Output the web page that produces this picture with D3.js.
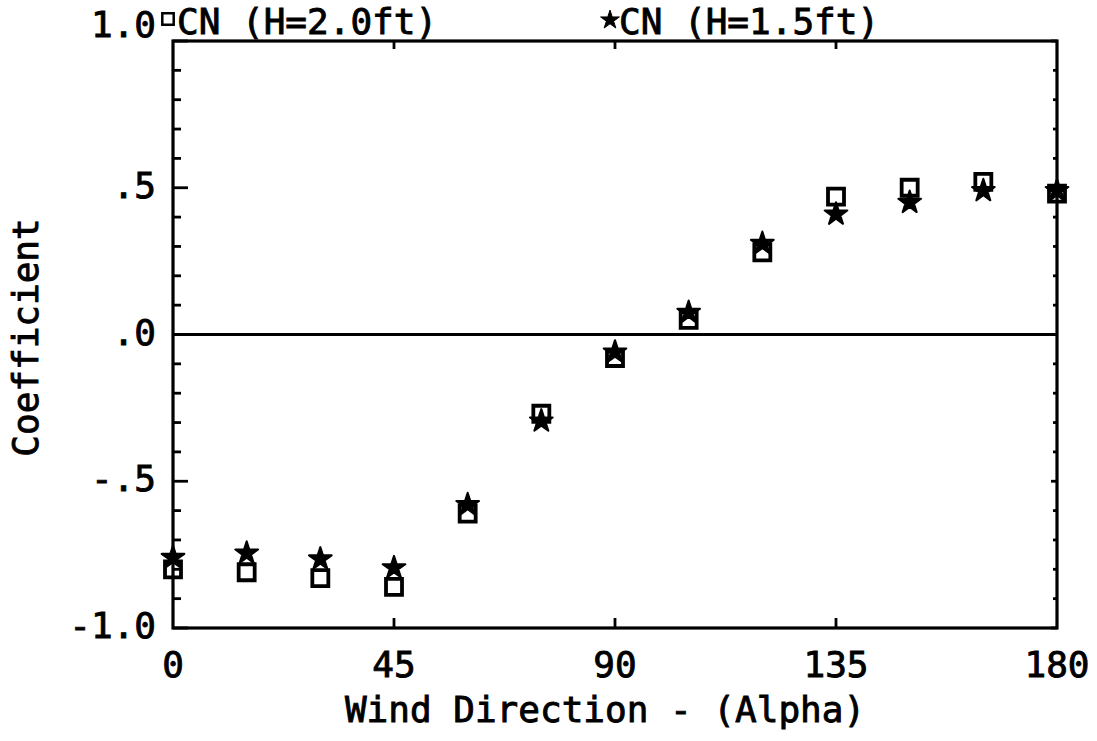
<!DOCTYPE html>
<html>
<head>
<meta charset="utf-8">
<script src="https://cdn.jsdelivr.net/npm/d3@7"></script>
<style>
  html, body { margin: 0; padding: 0; background: #fff; }
  svg { display: block; }
  text { font-family: "DejaVu Sans Mono", "Liberation Mono", monospace; fill: #000; stroke: #000; stroke-width: 0.9px; }
</style>
</head>
<body>
<svg id="chart" width="1097" height="741"></svg>
<script>
// ---- data ----
const windDirection = [0, 15, 30, 45, 60, 75, 90, 105, 120, 135, 150, 165, 180];
const cnH20 = [-0.80, -0.81, -0.83, -0.86, -0.61, -0.27, -0.08, 0.05, 0.28, 0.47, 0.50, 0.52, 0.48];
const cnH15 = [-0.76, -0.745, -0.765, -0.795, -0.58, -0.295, -0.06, 0.075, 0.31, 0.41, 0.45, 0.49, 0.49];
const seriesNames = ["CN (H=2.0ft)", "CN (H=1.5ft)"];
const xTickValues = [0, 45, 90, 135, 180];
const xTickLabels = ["0", "45", "90", "135", "180"];
const yTickValues = [1, 0.5, 0, -0.5, -1];
const yTickLabels = ["1.0", ".5", ".0", "-.5", "-1.0"];
const xTitle = "Wind Direction - (Alpha)";
const yTitle = "Coefficient";

// ---- layout ----
const W = 1097, H = 741;
const m = { left: 173, right: 40, top: 41, bottom: 113 };
const svg = d3.select("#chart");
const x = d3.scaleLinear().domain([0, 180]).range([m.left, W - m.right]);
const y = d3.scaleLinear().domain([-1, 1]).range([H - m.bottom, m.top]);
const FS = 36;

const g = svg.append("g");

// frame
g.append("rect")
  .attr("x", x(0)).attr("y", y(1))
  .attr("width", x(180) - x(0)).attr("height", y(-1) - y(1))
  .attr("fill", "none").attr("stroke", "#000").attr("stroke-width", 3.2);

// zero line
g.append("line")
  .attr("x1", x(0)).attr("x2", x(180)).attr("y1", y(0)).attr("y2", y(0))
  .attr("stroke", "#000").attr("stroke-width", 3);

// y ticks (left: minor 0.1, major 0.5) and right minor
const yMinor = d3.range(-10, 11).map(i => i / 10);
const isMajor = v => Math.abs(Math.round(v * 10) % 5) === 0;
g.selectAll("line.yl").data(yMinor).join("line")
  .attr("class", "yl")
  .attr("x1", x(0)).attr("x2", d => x(0) + (isMajor(d) ? 15 : 8))
  .attr("y1", d => y(d)).attr("y2", d => y(d))
  .attr("stroke", "#000").attr("stroke-width", 2.8);
g.selectAll("line.yr").data(yMinor).join("line")
  .attr("class", "yr")
  .attr("x1", x(180)).attr("x2", d => x(180) - (isMajor(d) ? 6 : 4))
  .attr("y1", d => y(d)).attr("y2", d => y(d))
  .attr("stroke", "#000").attr("stroke-width", 2.8);

// x ticks (bottom and top, inward)
const xInner = xTickValues.filter(v => v > 0 && v < 180);
g.selectAll("line.xb").data(xInner).join("line")
  .attr("x1", d => x(d)).attr("x2", d => x(d))
  .attr("y1", y(-1)).attr("y2", y(-1) - 10)
  .attr("stroke", "#000").attr("stroke-width", 2.8);
g.selectAll("line.xt").data(xInner).join("line")
  .attr("x1", d => x(d)).attr("x2", d => x(d))
  .attr("y1", y(1)).attr("y2", y(1) + 8)
  .attr("stroke", "#000").attr("stroke-width", 2.8);

// y tick labels (top label sits on the frame line)
g.selectAll("text.ylab").data(yTickValues).join("text")
  .attr("class", "ylab")
  .attr("x", x(0) - 17)
  .attr("y", d => y(d) + (d === 1 ? -4 : 10))
  .attr("text-anchor", "end")
  .attr("font-size", FS)
  .text((d, i) => yTickLabels[i]);

// x tick labels
g.selectAll("text.xlab").data(xTickValues).join("text")
  .attr("class", "xlab")
  .attr("x", d => x(d))
  .attr("y", y(-1) + 49)
  .attr("text-anchor", "middle")
  .attr("font-size", FS)
  .text((d, i) => xTickLabels[i]);

// axis titles
g.append("text")
  .attr("x", (x(0) + x(180)) / 2 - 10)
  .attr("y", H - 19)
  .attr("text-anchor", "middle")
  .attr("font-size", FS)
  .text(xTitle);
g.append("text")
  .attr("transform", `translate(38,${(y(1) + y(-1)) / 2 + 3}) rotate(-90)`)
  .attr("text-anchor", "middle")
  .attr("font-size", FS)
  .text(yTitle);

// markers
const sq = d3.symbol().type(d3.symbolSquare).size(256);
const st = d3.symbol().type(d3.symbolStar).size(160);

g.selectAll("path.sq").data(windDirection).join("path")
  .attr("class", "sq")
  .attr("transform", (d, i) => `translate(${x(d)},${y(cnH20[i])})`)
  .attr("d", sq)
  .attr("fill", "none").attr("stroke", "#000").attr("stroke-width", 3.8);

g.selectAll("path.st").data(windDirection).join("path")
  .attr("class", "st")
  .attr("transform", (d, i) => `translate(${x(d)},${y(cnH15[i])})`)
  .attr("d", st)
  .attr("fill", "#000").attr("stroke", "#000").attr("stroke-width", 2).attr("stroke-linejoin", "round");

// legend (above the frame)
const leg = svg.append("g");
leg.append("path")
  .attr("transform", `translate(168,19)`)
  .attr("d", d3.symbol().type(d3.symbolSquare).size(130))
  .attr("fill", "none").attr("stroke", "#000").attr("stroke-width", 2.5);
leg.append("text").attr("x", 177).attr("y", 34).attr("font-size", FS).text(seriesNames[0]);
leg.append("path")
  .attr("transform", `translate(610,20)`)
  .attr("d", d3.symbol().type(d3.symbolStar).size(110))
  .attr("fill", "#000").attr("stroke", "#000").attr("stroke-width", 1).attr("stroke-linejoin", "round");
leg.append("text").attr("x", 619).attr("y", 34).attr("font-size", FS).text(seriesNames[1]);
</script>
</body>
</html>
